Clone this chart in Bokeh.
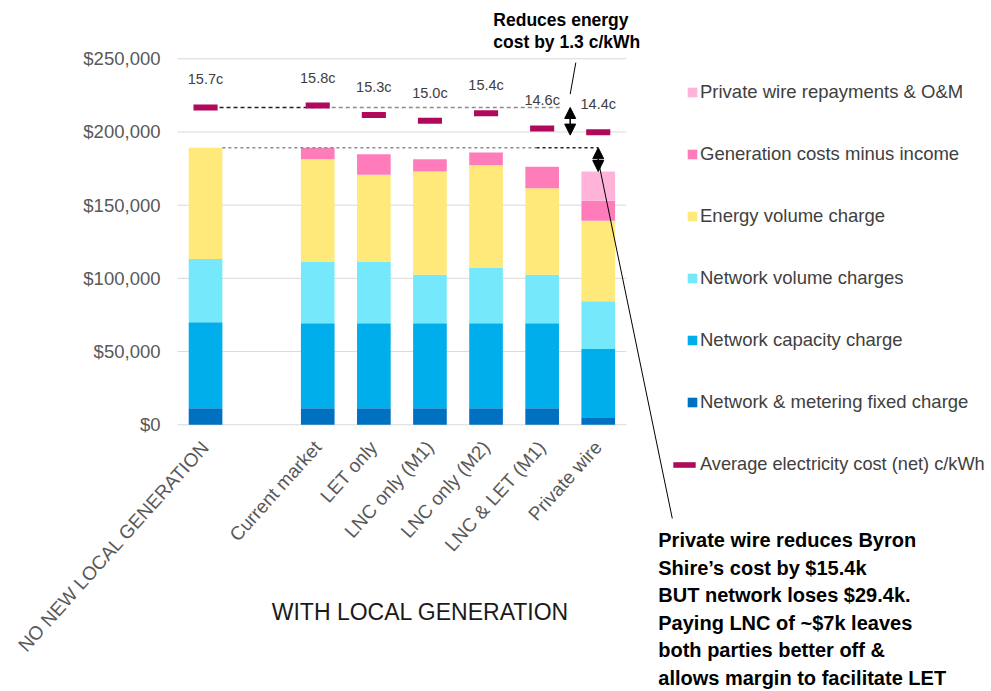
import math
from bokeh.plotting import figure
from bokeh.models import (ColumnDataSource, Range1d, Legend, LegendItem,
                          Label, Arrow, NormalHead)
from bokeh.core.properties import value
from bokeh.embed import file_html
from bokeh.resources import INLINE

FONT = value("Liberation Sans")

# ---------------- data ----------------
categories = ["NO NEW LOCAL GENERATION", "Current market", "LET only", "LNC only (M1)",
              "LNC only (M2)", "LNC & LET (M1)", "Private wire"]
blank_slot = " "
fixed_charge = [11300, 11300, 11300, 11300, 11300, 11300, 5200]
capacity_charge = [58700, 58000, 58000, 58000, 58000, 58000, 46600]
network_volume = [43200, 41900, 41900, 33200, 38200, 33200, 32500]
energy_volume = [76000, 70200, 59500, 70500, 69800, 59100, 55000]
generation_net = [0, 7900, 14100, 8400, 8700, 14600, 13700]
private_wire_om = [0, 0, 0, 0, 0, 0, 20000]
avg_cost_c = [15.7, 15.8, 15.3, 15.0, 15.4, 14.6, 14.4]
y_ticks = [0, 50000, 100000, 150000, 200000, 250000]
y_tick_labels = [f"${v:,}" for v in y_ticks]

series_keys = ["fixed", "capacity", "netvol", "energy", "gen", "pw"]
series_labels = ["Network & metering fixed charge", "Network capacity charge",
                 "Network volume charges", "Energy volume charge",
                 "Generation costs minus income", "Private wire repayments & O&M"]
series_colors = ["#0070C0", "#00AEEB", "#76E8FC", "#FFE97A", "#FF7CBB", "#FFB3D9"]
avg_label = "Average electricity cost (net) c/kWh"
avg_color = "#B0095C"

# slot layout: first category, an empty slot, then the rest
slots = [categories[0], blank_slot] + categories[1:]
xpos = [slots.index(c) + 0.5 for c in categories]
totals = [sum(v) for v in zip(fixed_charge, capacity_charge, network_volume,
                              energy_volume, generation_net, private_wire_om)]
n_slots = len(slots)

# ---------------- figure ----------------
p = figure(x_range=Range1d(-3.155, 14.492), y_range=Range1d(-181500, 289800),
           frame_width=990, frame_height=690,
           min_border_left=0, min_border_right=0, min_border_top=0, min_border_bottom=0,
           x_axis_location=None, y_axis_location=None,
           output_backend="svg", toolbar_location=None)
p.extra_y_ranges = {"cents": Range1d(-14.88, 21.31)}
p.outline_line_color = None
p.background_fill_color = "white"
p.xgrid.grid_line_color = None
p.ygrid.grid_line_color = None

# value axis: gridlines over the category slots and tick labels
p.segment(x0=[0] * len(y_ticks), x1=[n_slots] * len(y_ticks), y0=y_ticks, y1=y_ticks,
          line_color="#D9D9D9", line_width=1)
p.text(x=[0] * len(y_ticks), y=y_ticks, text=y_tick_labels, x_offset=-17,
       text_font=FONT, text_font_size="18.5px", text_color="#595959",
       text_align="right", text_baseline="middle")

src = ColumnDataSource(dict(x=xpos, fixed=fixed_charge, capacity=capacity_charge,
                            netvol=network_volume, energy=energy_volume,
                            gen=generation_net, pw=private_wire_om))
bars = p.vbar_stack(series_keys, x="x", width=0.6, color=series_colors,
                    line_color=None, source=src)

# category labels (rotated)
p.text(x=xpos, y=[0] * len(categories), text=categories, angle=0.84,
       x_offset=0, y_offset=19, text_font=FONT, text_font_size="19px",
       text_color="#595959", text_align="right", text_baseline="middle")

# reference lines
i_cm = slots.index(categories[1]) + 0.5
i_ll = slots.index(categories[5]) + 0.5
i_pw = slots.index(categories[6]) + 0.5
x0 = xpos[0]
p.line(x=[x0, i_cm], y=[avg_cost_c[0]] * 2, y_range_name="cents",
       line_color="#222222", line_dash="4 3", line_width=1.5)
p.line(x=[i_cm, i_ll + 0.36], y=[avg_cost_c[0]] * 2, y_range_name="cents",
       line_color="#8C8C8C", line_dash="4 3", line_width=1.5)
p.line(x=[x0 + 0.3, i_ll - 0.1], y=[totals[0]] * 2,
       line_color="#8C8C8C", line_dash="3 3", line_width=1.5)
p.line(x=[i_ll - 0.1, i_pw], y=[totals[0]] * 2,
       line_color="#222222", line_dash="3 3", line_width=1.5)

# average cost markers + labels
markers = p.rect(x=xpos, y=avg_cost_c, width=0.43, height=6, height_units="screen",
                 fill_color=avg_color, line_color=None, y_range_name="cents")
p.text(x=xpos, y=avg_cost_c, text=[f"{v:.1f}c" for v in avg_cost_c], y_offset=-28,
       y_range_name="cents", text_font=FONT, text_font_size="14.5px", text_color="#404040",
       text_align="center", text_baseline="middle")

# double arrows
def head():
    return NormalHead(size=11, fill_color="black", line_color="black")

x_gap = i_pw - 0.5
p.add_layout(Arrow(x_start=x_gap, y_start=avg_cost_c[0], x_end=x_gap, y_end=avg_cost_c[-1] - 0.15,
                   y_range_name="cents", line_width=1.5, line_color="black",
                   start=head(), end=head()))
p.add_layout(Arrow(x_start=i_pw, y_start=totals[0], x_end=i_pw, y_end=totals[-1],
                   line_width=1.5, line_color="black", start=head(), end=head()))
# callout lines
p.add_layout(Arrow(x_start=x_gap + 0.1, y_start=18.05, x_end=x_gap, y_end=16.4,
                   y_range_name="cents", line_width=1, line_color="black", start=None, end=None))
p.add_layout(Arrow(x_start=i_pw, y_start=180500, x_end=i_pw + 1.32, y_end=-64000,
                   line_width=1, line_color="black", start=None, end=None))

# texts
p.add_layout(Label(x=slots.index(categories[4]) + 0.63, y=283000,
                   text="Reduces energy\ncost by 1.3 c/kWh", text_font="Liberation Sans",
                   text_font_size="17.5px", text_font_style="bold", text_color="black",
                   text_baseline="top", text_align="left", text_line_height=1.1))
p.add_layout(Label(x=i_pw + 1.07, y=-71500,
                   text="Private wire reduces Byron\nShire\u2019s cost by $15.4k\nBUT network loses $29.4k.\nPaying LNC of ~$7k leaves\nboth parties better off &\nallows margin to facilitate LET",
                   text_font="Liberation Sans", text_font_size="20px", text_font_style="bold",
                   text_color="black", text_baseline="top", text_align="left",
                   text_line_height=1.25))
p.add_layout(Label(x=slots.index(categories[3]) + 0.33, y=-128000,
                   text="WITH LOCAL GENERATION", text_font="Liberation Sans",
                   text_font_size="23px", text_color="#1A1A1A",
                   text_baseline="middle", text_align="center"))

# legends (positions relative to the plot frame, in pixels)
items = [LegendItem(label=lab, renderers=[r]) for lab, r in zip(series_labels, bars)][::-1]
leg1 = Legend(items=items, location=(686, 277), glyph_width=12, glyph_height=12,
              label_height=22, spacing=40, padding=0, margin=0, label_standoff=2,
              label_text_font="Liberation Sans", label_text_font_size="18.5px",
              label_text_color="#404040", background_fill_alpha=0, border_line_color=None)
leg2 = Legend(items=[LegendItem(label=avg_label, renderers=[markers])], location=(670, 215),
              glyph_width=28, glyph_height=7, label_height=22, padding=0, margin=0,
              label_standoff=2, label_text_font="Liberation Sans", label_text_font_size="18.2px",
              label_text_color="#404040", background_fill_alpha=0, border_line_color=None)
p.add_layout(leg1)
p.add_layout(leg2)

open("out.html", "w").write(file_html(p, INLINE))
